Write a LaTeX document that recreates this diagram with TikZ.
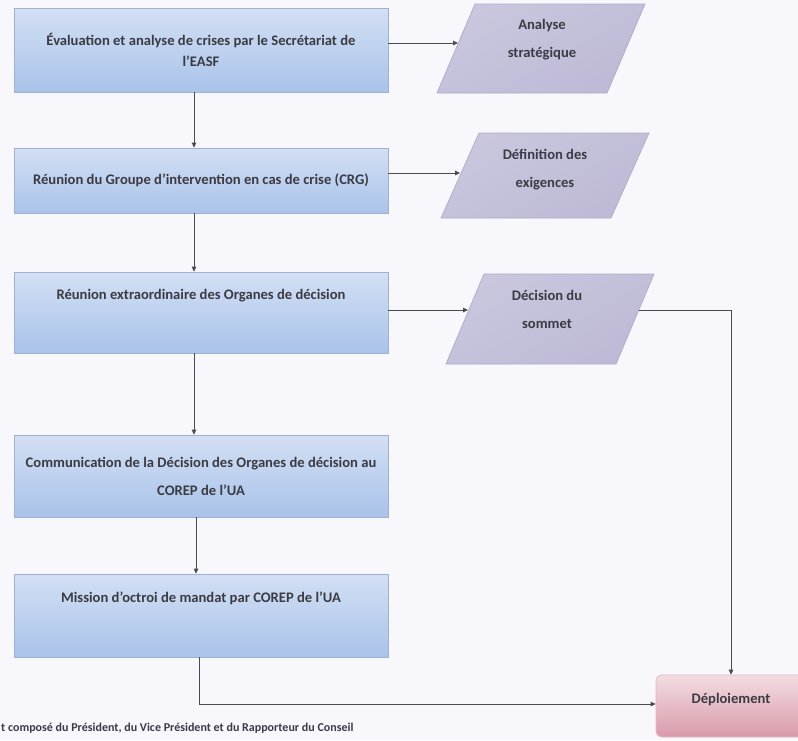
\documentclass[tikz,border=0pt]{standalone}
\usepackage{fontspec}
\setmainfont{Carlito}
\usetikzlibrary{arrows.meta,calc}
\definecolor{bgc}{HTML}{F7F7FC}
\definecolor{txtc}{HTML}{3B3B44}
\definecolor{boxline}{HTML}{9FB2D2}
\definecolor{boxtop}{HTML}{D3DFF3}
\definecolor{boxmid}{HTML}{EEF3FB}
\definecolor{boxbot}{HTML}{A9C3EA}
\definecolor{paraline}{HTML}{AEABC4}
\definecolor{paratop}{HTML}{C9C6DE}
\definecolor{paramid}{HTML}{EAE8F2}
\definecolor{parabot}{HTML}{BEBAD6}
\definecolor{depline}{HTML}{E3B9C3}
\definecolor{deptop}{HTML}{F3DDE2}
\definecolor{depmid}{HTML}{EDCDD4}
\definecolor{depbot}{HTML}{D99AA9}
\definecolor{linec}{HTML}{4A4A52}
\tikzset{
  box/.style={draw=boxline, line width=0.7pt, top color=boxtop, middle color=boxmid, bottom color=boxbot,
    minimum width=374pt, inner sep=0pt, align=center, text=txtc,
    font=\bfseries\fontsize{14.6}{21}\selectfont},
  paratext/.style={inner sep=0pt, align=center, text=txtc, font=\bfseries\fontsize{14.6}{28}\selectfont},
  parashade/.style={top color=paratop, middle color=paramid, bottom color=parabot, shading angle=30},
  paraedge/.style={draw=paraline, line width=0.7pt},
  depbox/.style={draw=depline, line width=0.7pt, rounded corners=6pt, top color=deptop, middle color=depmid, bottom color=depbot,
    minimum width=150pt, minimum height=62pt, inner sep=0pt, text=txtc, font=\bfseries\fontsize{14.6}{16}\selectfont},
  conn/.style={draw=linec, line width=1pt, -{Triangle[length=5pt,width=4.5pt]}},
  plain/.style={draw=linec, line width=1pt},
  footnote/.style={inner sep=0pt, anchor=west, text=txtc, font=\bfseries\fontsize{12}{12}\selectfont}
}
\begin{document}
\begin{tikzpicture}[x=1pt,y=-1pt]
\useasboundingbox (0,0) rectangle (798,740);
\clip (0,0) rectangle (798,740);
\fill[bgc] (0,0) rectangle (798,740);

% main boxes
\node[box, minimum height=84pt] (b1) at (201,50) {Évaluation et analyse de crises par le Secrétariat de\\l'EASF};
\node[box, minimum height=65pt] (b2) at (201,180.5) {Réunion du Groupe d'intervention en cas de crise (CRG)};
\node[box, minimum height=81pt, text height=10pt, text depth=37pt] (b3) at (201,312.5) {Réunion extraordinaire des Organes de décision};
\node[box, minimum height=82pt, font=\bfseries\fontsize{14.6}{28}\selectfont] (b4) at (201,476) {Communication de la Décision des Organes de décision au\\COREP de l'UA};
\node[box, minimum height=83pt, text height=10pt, text depth=37pt] (b5) at (201,615.5) {Mission d'octroi de mandat par COREP de l'UA};

% parallelograms
\shade[parashade] (437,93) -- (607,93) -- (645,4) -- (475,4) -- cycle;
\draw[paraedge] (437,93) -- (607,93) -- (645,4) -- (475,4) -- cycle;
\shade[parashade] (441,218) -- (611,218) -- (649,133) -- (479,133) -- cycle;
\draw[paraedge] (441,218) -- (611,218) -- (649,133) -- (479,133) -- cycle;
\shade[parashade] (446,364) -- (616,364) -- (654,274) -- (484,274) -- cycle;
\draw[paraedge] (446,364) -- (616,364) -- (654,274) -- (484,274) -- cycle;

\node[paratext] (p1) at (542,40) {Analyse\\stratégique};
\node[paratext] (p2) at (545,170) {Définition des\\exigences};
\node[paratext] (p3) at (547,309) {Décision du\\sommet};
\coordinate (p1in) at (458,43);
\coordinate (p2in) at (460,173);
\coordinate (p3in) at (468,310);
\coordinate (p3out) at (639,310);

% deployment
\node[depbox, text height=10pt, text depth=16pt] (d) at (731,706) {Déploiement};

% connectors
\draw[conn] (b1.east |- p1in) -- (p1in);
\draw[conn] (b2.east |- p2in) -- (p2in);
\draw[conn] (b3.east |- p3in) -- (p3in);
\draw[conn] ([xshift=-7pt]b1.south) -- ([xshift=-7pt]b2.north);
\draw[conn] ([xshift=-7pt]b2.south) -- ([xshift=-7pt]b3.north);
\draw[conn] ([xshift=-7pt]b3.south) -- ([xshift=-7pt]b4.north);
\draw[conn] ([xshift=-5pt]b4.south) -- ([xshift=-5pt]b5.north);
\draw[conn] ([xshift=-2pt]b5.south) |- ([yshift=2pt]d.west);
\draw[conn] (p3out) -| (d.north);

% footnote
\node[footnote] (fn) at (1,728) {t composé du Président, du Vice Président et du Rapporteur du Conseil};
\end{tikzpicture}
\end{document}
